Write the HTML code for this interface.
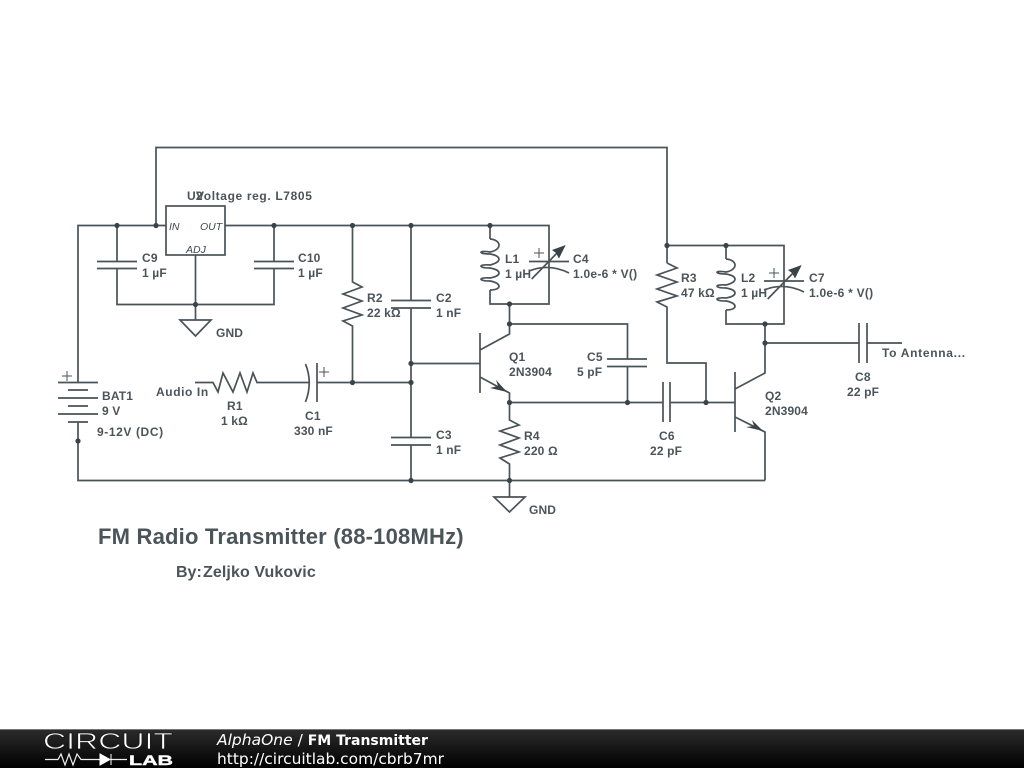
<!DOCTYPE html>
<html><head><meta charset="utf-8"><style>
html,body{margin:0;padding:0;background:#fff;width:1024px;height:768px;overflow:hidden}
svg{display:block}
.w{fill:none;stroke:#4a5358;stroke-width:1.7;stroke-linejoin:miter}
.t{font-family:"Liberation Sans",sans-serif;font-size:12px;font-weight:bold;fill:#4b5459;letter-spacing:.15px}
.i{font-style:italic;font-size:10.5px;font-weight:normal;fill:#3f484d;letter-spacing:0}
</style></head><body>
<svg width="1024" height="768" viewBox="0 0 1024 768" xmlns="http://www.w3.org/2000/svg">
<defs>
<linearGradient id="g" x1="0" y1="0" x2="0" y2="1"><stop offset="0" stop-color="#2c2c2c"/><stop offset="1" stop-color="#000"/></linearGradient>
</defs>
<rect width="1024" height="768" fill="#fff"/>
<g class="w">
<path d="M78 382V225.500H166M225 225.500H549V304H490V290M490 225.500V239"/>
<path d="M156 225.500V147.500H667V263"/>
<rect x="166" y="206" width="59" height="49"/>
<path d="M117 225.500V261.500M97 261.500H137M97 268.500H137M117 268.500V304.500H274V268.500M254 268.500H294M254 261.500H294M274 261.500V225.500"/>
<path d="M195.500 255V320M180 320H211L195.500 336Z"/>
<path d="M352.500 225.500V282L362 287 343 294 362 301 343 308 362 315 343 321 352.500 326V382.500"/>
<path d="M195 382.500H213L218 392 223 373 233 392 240 373 247 392 253 373 257 382.500H309M305.500 364Q313 382.500 305.500 402M317 363V402M317 382.500H411"/>
<path d="M411 225.500V300.500M391 300.500H431M391 308H431M411 308V437.500M391 437.500H431M391 445H431M411 445V480.500"/>
<path d="M411 363.500H480M480 333V393M480 350L509.500 334V304M480 377L509.500 393V402"/>
<path d="M490 239C502 240 502 250 490 252C478 250 478 254 490 254C502 256 502 262 490 265C478 264 478 268 490 268C502 270 502 276 490 278C478 277 478 281 490 281C502 283 502 290 490 290"/>
<path d="M529 261.500H569M529 271Q549 263 569 273M531.700 279L560 250"/>
<path d="M534 253H544M539 248V258" stroke-width="1"/>
<path d="M509.500 324H627.500V359M607 359H647M607 366.500H647M627.500 366.500V402M509.500 402.500H663M663 382V422M670 382V422M670 402.500H735"/>
<path d="M667 263L677 268 657 275 677 282 657 289 677 296 657 302 667 307V363H706V402"/>
<path d="M667 245.500H784V324H726V310M726 245.500V259"/>
<path d="M726 259C738 260 738 270 726 272C714 270 714 274 726 274C738 276 738 282 726 285C714 284 714 288 726 288C738 290 738 296 726 298C714 297 714 301 726 301C738 303 738 310 726 310"/>
<path d="M764 281H804M764 290Q784 282 804 292M767.700 299L796 270"/>
<path d="M769 273H779M774 268V278" stroke-width="1"/>
<path d="M765 324V373L735 389M735 372V432M735 417L765 432V480.500M765 343H859M859 323V363M867 323V363M867 343H902"/>
<path d="M509.500 402V420L519 425 500 431 519 438 500 445 519 452 500 458 509.500 464V497M494 497H525L509.500 512Z"/>
<path d="M78 422V480.500H765"/>
<path d="M58 382.500H98M68 390H88M58 398H98M68 406H88M58 414H98M68 422H88"/>
<path d="M62 376H72M67 371V381M319 372H329M324 367V377" stroke-width="1"/>
</g>
<g fill="#3a4348">
<path d="M565.700 245L552 250 556 253 559 258.500Z"/>
<path d="M801.700 265L788 270 792 273 795 278.500Z"/>
<path d="M507 392L496 380 498 386 490 388Z"/>
<path d="M763 431L752 420 754 426 746 427Z"/>
<circle cx="117" cy="225.500" r="2.600"/><circle cx="156" cy="225.500" r="2.600"/><circle cx="274" cy="225.500" r="2.600"/><circle cx="352.500" cy="225.500" r="2.600"/><circle cx="411" cy="225.500" r="2.600"/><circle cx="490" cy="225.500" r="2.600"/><circle cx="195.500" cy="304.500" r="2.600"/><circle cx="352.500" cy="382.500" r="2.600"/><circle cx="411" cy="382.500" r="2.600"/><circle cx="411" cy="363.500" r="2.600"/><circle cx="411" cy="480.500" r="2.600"/><circle cx="509.500" cy="304" r="2.600"/><circle cx="509.500" cy="324" r="2.600"/><circle cx="509.500" cy="402.500" r="2.600"/><circle cx="509.500" cy="480.500" r="2.600"/><circle cx="627.500" cy="402.500" r="2.600"/><circle cx="706" cy="402.500" r="2.600"/><circle cx="667" cy="245.500" r="2.600"/><circle cx="726" cy="245.500" r="2.600"/><circle cx="765" cy="324" r="2.600"/><circle cx="765" cy="343" r="2.600"/><circle cx="78" cy="441" r="2.600"/>
</g>
<g class="t">
<text x="187" y="200">U2</text><text x="196" y="200" style="letter-spacing:.63px">Voltage reg. L7805</text>
<text class="t i" x="169" y="230">IN</text><text class="t i" x="200" y="230">OUT</text><text class="t i" x="186" y="253">ADJ</text>
<text x="142" y="262">C9</text><text x="142" y="277">1 µF</text>
<text x="298" y="262">C10</text><text x="298" y="277">1 µF</text>
<text x="216" y="337">GND</text>
<text x="367" y="302">R2</text><text x="367" y="317">22 kΩ</text>
<text x="436" y="302">C2</text><text x="436" y="317">1 nF</text>
<text x="505" y="263">L1</text><text x="505" y="278">1 µH</text>
<text x="573" y="263">C4</text><text x="573" y="278" style="letter-spacing:.25px">1.0e-6 * V()</text>
<text x="509" y="361">Q1</text><text x="509" y="376">2N3904</text>
<text x="587" y="361">C5</text><text x="577" y="376">5 pF</text>
<text x="102" y="400">BAT1</text><text x="102" y="415">9 V</text>
<text x="97" y="436" style="letter-spacing:.6px">9-12V (DC)</text>
<text x="156" y="396" style="letter-spacing:.6px">Audio In</text>
<text x="227" y="410">R1</text><text x="221" y="425">1 kΩ</text>
<text x="305" y="420">C1</text><text x="294" y="435">330 nF</text>
<text x="436" y="439">C3</text><text x="436" y="454">1 nF</text>
<text x="524" y="440">R4</text><text x="524" y="455">220 Ω</text>
<text x="529" y="514">GND</text>
<text x="659" y="440">C6</text><text x="650" y="455">22 pF</text>
<text x="681" y="282">R3</text><text x="681" y="297">47 kΩ</text>
<text x="741" y="282">L2</text><text x="741" y="297">1 µH</text>
<text x="809" y="282">C7</text><text x="809" y="297" style="letter-spacing:.25px">1.0e-6 * V()</text>
<text x="765" y="400">Q2</text><text x="765" y="415">2N3904</text>
<text x="882" y="357" style="letter-spacing:.7px">To Antenna...</text>
<text x="855" y="381">C8</text><text x="847" y="396">22 pF</text>
</g>
<text x="98" y="544" font-family="Liberation Sans,sans-serif" font-size="22" font-weight="bold" fill="#4b5459" letter-spacing=".2">FM Radio Transmitter (88-108MHz)</text>
<text x="176" y="577" font-family="Liberation Sans,sans-serif" font-size="16" font-weight="bold" fill="#4b5459">By:</text>
<text x="203" y="577" font-family="Liberation Sans,sans-serif" font-size="16" font-weight="bold" fill="#4b5459" letter-spacing=".1">Zeljko Vukovic</text>
<rect x="0" y="729" width="1024" height="39" fill="url(#g)"/>
<rect x="0" y="729" width="1024" height="1" fill="#777"/>
<text x="43" y="749" font-family="Liberation Sans,sans-serif" font-size="23" fill="#fff" stroke="#1a1a1a" stroke-width=".7" textLength="130" lengthAdjust="spacingAndGlyphs">CIRCUIT</text>
<path d="M45 759.500H58L61 754 65 765 69 754 73 765 77 754 81 759.500H100M111 759.500H127" fill="none" stroke="#eee" stroke-width="1.200"/>
<path d="M100 754V765L110 759.500ZM111 754V765" fill="#fff" stroke="#fff"/>
<text x="129" y="765" font-family="Liberation Sans,sans-serif" font-weight="bold" font-size="14" fill="#fff" stroke="#fff" stroke-width=".4" textLength="44" lengthAdjust="spacingAndGlyphs">LAB</text>
<text x="217" y="745" font-family="DejaVu Sans,sans-serif" font-size="15.500" fill="#fff"><tspan font-style="italic">AlphaOne</tspan> / <tspan font-weight="bold" font-size="14">FM Transmitter</tspan></text>
<text x="217" y="764" font-family="DejaVu Sans,sans-serif" font-size="15.450" fill="#fff">http://circuitlab.com/cbrb7mr</text>
</svg>
</body></html>
